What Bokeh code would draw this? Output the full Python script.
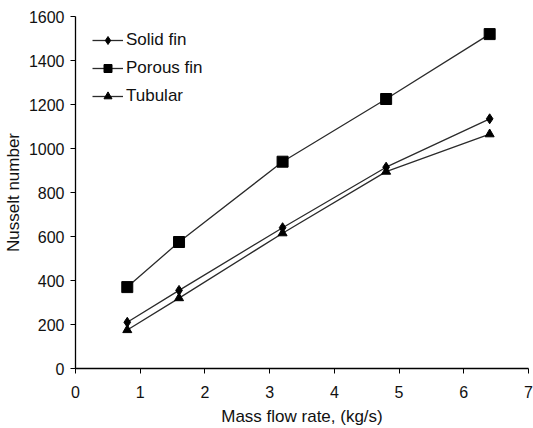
from bokeh.plotting import figure
from bokeh.models import Range1d, FixedTicker, Legend, LegendItem
from bokeh.embed import file_html
from bokeh.resources import INLINE

mass_flow = [0.8, 1.6, 3.2, 4.8, 6.4]
solid_fin = [210, 355, 640, 915, 1135]
porous_fin = [370, 575, 940, 1225, 1520]
tubular = [175, 320, 615, 895, 1065]
x_ticks = [0, 1, 2, 3, 4, 5, 6, 7]
y_ticks = [0, 200, 400, 600, 800, 1000, 1200, 1400, 1600]

FONT = "Liberation Sans"
LC = "#2b2b2b"

p = figure(width=533, height=428, output_backend="svg", toolbar_location=None,
           x_range=Range1d(0, 7), y_range=Range1d(0, 1600),
           min_border_left=75, min_border_right=5, min_border_top=16, min_border_bottom=58)
p.outline_line_color = None
p.grid.grid_line_color = None
p.background_fill_color = "white"
p.border_fill_color = "white"

for ax in (p.xaxis[0], p.yaxis[0]):
    ax.axis_line_color = "black"
    ax.axis_line_width = 1.3
    ax.major_tick_line_color = "black"
    ax.major_tick_in = 0
    ax.major_tick_out = 5
    ax.minor_tick_line_color = None
    ax.major_label_text_font = FONT
    ax.major_label_text_font_size = "16px"
    ax.major_label_text_color = "#111111"
    ax.axis_label_text_font = FONT
    ax.axis_label_text_font_size = "17px"
    ax.axis_label_text_font_style = "normal"
    ax.axis_label_text_color = "#111111"

p.xaxis.ticker = FixedTicker(ticks=x_ticks)
p.yaxis.ticker = FixedTicker(ticks=y_ticks)
p.xaxis.axis_label = "Mass flow rate, (kg/s)"
p.yaxis.axis_label = "Nusselt number"
p.xaxis.major_label_standoff = 12
p.yaxis.major_label_standoff = 6
p.xaxis.axis_label_standoff = 6
p.yaxis.axis_label_standoff = 3

l1 = p.line(mass_flow, solid_fin, line_color=LC, line_width=1.3)
m1 = p.scatter(mass_flow, solid_fin, marker="diamond", size=10, color="black")
l2 = p.line(mass_flow, porous_fin, line_color=LC, line_width=1.3)
m2 = p.scatter(mass_flow, porous_fin, marker="square", size=11, color="black")
l3 = p.line(mass_flow, tubular, line_color=LC, line_width=1.3)
m3 = p.scatter(mass_flow, tubular, marker="triangle", size=9, color="black")

legend = Legend(items=[
    LegendItem(label="Solid fin", renderers=[l1, m1]),
    LegendItem(label="Porous fin", renderers=[l2, m2]),
    LegendItem(label="Tubular", renderers=[l3, m3]),
], location=(17, 262))
legend.border_line_color = None
legend.background_fill_alpha = 0
legend.label_text_font = FONT
legend.label_text_font_size = "17px"
legend.label_text_color = "#111111"
legend.glyph_width = 31
legend.glyph_height = 20
legend.label_height = 20
legend.label_standoff = 3
legend.spacing = 8
legend.padding = 5
legend.margin = 0
p.add_layout(legend, "center")

open("out.html", "w").write(file_html(p, INLINE))
